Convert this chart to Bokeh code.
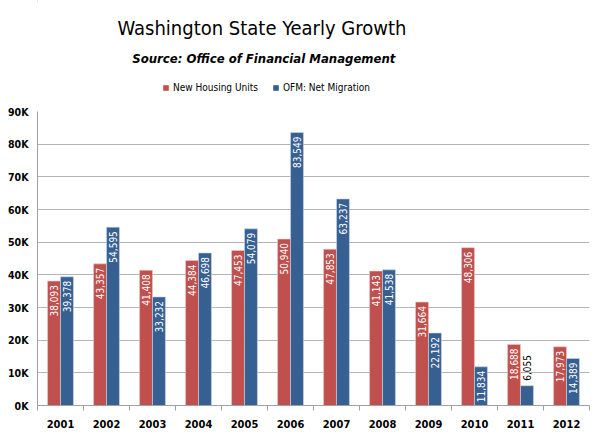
from bokeh.plotting import figure
from bokeh.layouts import column
from bokeh.models import ColumnDataSource, FixedTicker, Range1d, Label, Legend, LegendItem
from bokeh.core.properties import value
from bokeh.embed import file_html
from bokeh.resources import INLINE
import math

years = ["2001", "2002", "2003", "2004", "2005", "2006", "2007", "2008", "2009", "2010", "2011", "2012"]
housing_units = [38093, 43357, 41408, 44384, 47453, 50940, 47853, 41143, 31664, 48306, 18688, 17973]
net_migration = [39378, 54595, 33232, 46698, 54079, 83549, 63237, 41538, 22192, 11834, 6055, 14389]
y_ticks = [0, 10000, 20000, 30000, 40000, 50000, 60000, 70000, 80000, 90000]
y_tick_labels = ["0K", "10K", "20K", "30K", "40K", "50K", "60K", "70K", "80K", "90K"]
series_names = ["New Housing Units", "OFM: Net Migration"]
title_text = "Washington State Yearly Growth"
subtitle_text = "Source: Office of Financial Management"

RED = "#C0504D"
BLUE = "#376092"
FONT = "DejaVu Sans Condensed"
HEAD_H = 100

# ---------------- header (title, subtitle, legend) ----------------
head = figure(width=600, height=HEAD_H, output_backend="svg", toolbar_location=None,
              x_range=Range1d(0, 600), y_range=Range1d(HEAD_H, 0),
              x_axis_location=None, y_axis_location=None,
              min_border_left=0, min_border_right=0, min_border_top=0, min_border_bottom=0)
head.outline_line_color = None
head.grid.visible = False

head.add_layout(Label(x=244, y=27, text=title_text, text_font=FONT, text_font_size="20px",
                      text_align="center", text_baseline="middle", text_color="black"))
head.add_layout(Label(x=246, y=58, text=subtitle_text, text_font=FONT, text_font_style="bold italic",
                      text_font_size="13px", text_align="center", text_baseline="middle",
                      text_color="black"))

# legend swatches (renderers kept outside the visible header range)
lh = head.vbar(x=[-50], top=[1], width=1, fill_color=RED, line_color=None)
lm = head.vbar(x=[-50], top=[1], width=1, fill_color=BLUE, line_color=None)
legend = Legend(items=[LegendItem(label=series_names[0], renderers=[lh]),
                       LegendItem(label=series_names[1], renderers=[lm])],
                orientation="horizontal", location=(125, HEAD_H - 94),
                glyph_width=7, glyph_height=7, label_height=14, label_standoff=4, spacing=14,
                padding=0, margin=0, border_line_color=None, background_fill_alpha=0,
                label_text_font=FONT, label_text_font_size="10px", label_text_color="black")
head.add_layout(legend, "center")

# ---------------- chart ----------------
xs = list(range(1, len(years) + 1))
off = 0.141
bw = 0.28

p = figure(width=600, height=436 - HEAD_H, output_backend="svg", toolbar_location=None,
           x_range=Range1d(0.5, len(years) + 0.5), y_range=Range1d(0, 90000),
           min_border_left=37, min_border_right=11, min_border_top=111 - HEAD_H, min_border_bottom=31)
p.outline_line_color = None
p.background_fill_color = "white"

src_h = ColumnDataSource(dict(x=[x - off for x in xs], top=housing_units))
src_m = ColumnDataSource(dict(x=[x + off for x in xs], top=net_migration))
p.vbar(x="x", top="top", width=bw, source=src_h, fill_color=RED, line_color="#E8C8C7", line_width=0.6)
p.vbar(x="x", top="top", width=bw, source=src_m, fill_color=BLUE, line_color="#C9D4E3", line_width=0.6)

def labels(xpos, vals):
    inside = [v >= 10000 for v in vals]
    return dict(
        x=xpos, y=vals,
        text=[f"{v:,}" for v in vals],
        color=["white" if i else "black" for i in inside],
        align=["right" if i else "left" for i in inside],
        yoff=[4 if i else -5 for i in inside],
    )

for xpos, vals in (([x - off for x in xs], housing_units), ([x + off for x in xs], net_migration)):
    s = ColumnDataSource(labels(xpos, vals))
    p.text(x="x", y="y", text="text", source=s, angle=math.pi / 2, text_align="align",
           text_baseline="middle", y_offset="yoff", text_color="color",
           text_font=value(FONT), text_font_size="10px")

p.xgrid.visible = False
p.ygrid.grid_line_color = "#B4B4B4"
p.ygrid.grid_line_width = 1
p.ygrid.ticker = FixedTicker(ticks=y_ticks)

p.yaxis.ticker = FixedTicker(ticks=y_ticks)
p.yaxis.major_label_overrides = {t: l for t, l in zip(y_ticks, y_tick_labels)}
p.yaxis.major_tick_line_color = None
p.yaxis.major_tick_out = 0
p.yaxis.major_tick_in = 0
p.yaxis.minor_tick_line_color = None
p.yaxis.minor_tick_out = 0
p.yaxis.axis_line_color = "#A0A0A0"
p.yaxis.major_label_text_font = FONT
p.yaxis.major_label_text_font_style = "bold"
p.yaxis.major_label_text_font_size = "10.5px"
p.yaxis.major_label_text_color = "black"
p.yaxis.major_label_standoff = 9

p.xaxis.ticker = FixedTicker(ticks=xs, minor_ticks=[x + 0.5 for x in range(0, len(years) + 1)])
p.xaxis.major_label_overrides = {x: y for x, y in zip(xs, years)}
p.xaxis.major_tick_line_color = None
p.xaxis.major_tick_out = 0
p.xaxis.minor_tick_line_color = "#A0A0A0"
p.xaxis.minor_tick_out = 5
p.xaxis.minor_tick_in = 0
p.xaxis.axis_line_color = "#A0A0A0"
p.xaxis.major_label_text_font = FONT
p.xaxis.major_label_text_font_style = "bold"
p.xaxis.major_label_text_font_size = "11px"
p.xaxis.major_label_text_color = "black"
p.xaxis.major_label_standoff = 9

layout = column(head, p, spacing=0)
open("out.html", "w").write(file_html(layout, INLINE))
